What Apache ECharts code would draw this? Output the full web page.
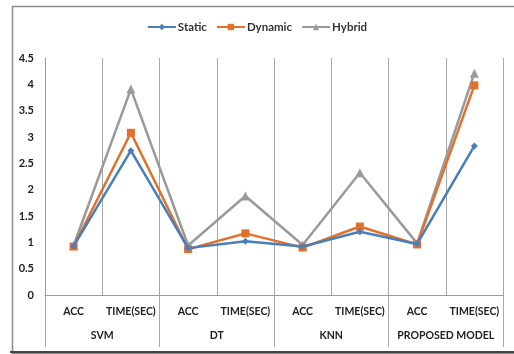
<!DOCTYPE html>
<html><head><meta charset="utf-8">
<script src="https://cdn.jsdelivr.net/npm/echarts@6/dist/echarts.min.js"></script>
<style>html,body{margin:0;padding:0;background:#fff}#c{width:514px;height:354px}</style>
</head><body><div id="c"></div>
<script>
const categories = ['ACC','TIME(SEC)','ACC','TIME(SEC)','ACC','TIME(SEC)','ACC','TIME(SEC)'];
const groups = ['SVM','DT','KNN','PROPOSED MODEL'];
const staticVals  = [0.93, 2.74, 0.89, 1.02, 0.92, 1.20, 0.97, 2.83];
const dynamicVals = [0.92, 3.08, 0.87, 1.17, 0.90, 1.30, 0.96, 3.98];
const hybridVals  = [0.94, 3.91, 0.94, 1.88, 0.95, 2.32, 0.98, 4.21];
const yTicks = {min: 0, max: 4.5, step: 0.5};

const font = 'Lato, "Open Sans", sans-serif';
const chart = echarts.init(document.getElementById('c'));
chart.setOption({
  animation: false,
  backgroundColor: '#fff',
  graphic: [{
    type: 'rect', left: 10, top: 4, z: -1,
    shape: {width: 520, height: 347},
    style: {fill: 'none', stroke: '#8a8a8a', lineWidth: 1.5}
  },{
    type: 'line', z: -1,
    shape: {x1: 10, y1: 352, x2: 514, y2: 352},
    style: {stroke: '#444', lineWidth: 2}
  }],
  legend: {
    top: 16, left: 'center', itemWidth: 28, itemHeight: 8, itemGap: 9,
    textStyle: {fontFamily: font, fontWeight: 'bold', fontSize: 11.5, color: '#333', padding: [0,0,0,-3]},
    data: ['Static','Dynamic','Hybrid']
  },
  grid: {left: 45, right: 11, top: 58, bottom: 59},
  xAxis: [{
    type: 'category', data: categories, boundaryGap: true,
    axisLine: {lineStyle: {color: '#9a9a9a', width: 1}},
    axisTick: {show: false},
    splitLine: {show: true, lineStyle: {color: '#a8a8a8', width: 1}},
    axisLabel: {interval: 0, margin: 11, fontFamily: font, fontWeight: 'bold', fontSize: 10.5, color: '#222'}
  },{
    type: 'category', data: groups, position: 'bottom', boundaryGap: true,
    axisLine: {show: false},
    axisTick: {show: true, length: 52, lineStyle: {color: '#a8a8a8', width: 1}},
    splitLine: {show: false},
    axisLabel: {interval: 0, margin: 35, fontFamily: font, fontWeight: 'bold', fontSize: 10.5, color: '#222'}
  }],
  yAxis: {
    type: 'value', min: yTicks.min, max: yTicks.max, interval: yTicks.step,
    axisLine: {show: true, lineStyle: {color: '#9a9a9a'}},
    axisTick: {show: false},
    splitLine: {show: false},
    axisLabel: {margin: 11, fontFamily: font, fontWeight: 'bold', fontSize: 11, color: '#222'}
  },
  series: [{
    name: 'Static', type: 'line', data: staticVals, symbol: 'diamond', symbolSize: 7,
    itemStyle: {color: '#4a7ebb'}, lineStyle: {width: 2.5, color: '#4a7ebb'}, z: 4
  },{
    name: 'Dynamic', type: 'line', data: dynamicVals, symbol: 'rect', symbolSize: 8,
    itemStyle: {color: '#e3702a'}, lineStyle: {width: 2.5, color: '#e3702a'}, z: 3
  },{
    name: 'Hybrid', type: 'line', data: hybridVals, symbol: 'triangle', symbolSize: 9,
    itemStyle: {color: '#9a9a9a'}, lineStyle: {width: 2.5, color: '#9a9a9a'}, z: 2
  }]
});
</script></body></html>
